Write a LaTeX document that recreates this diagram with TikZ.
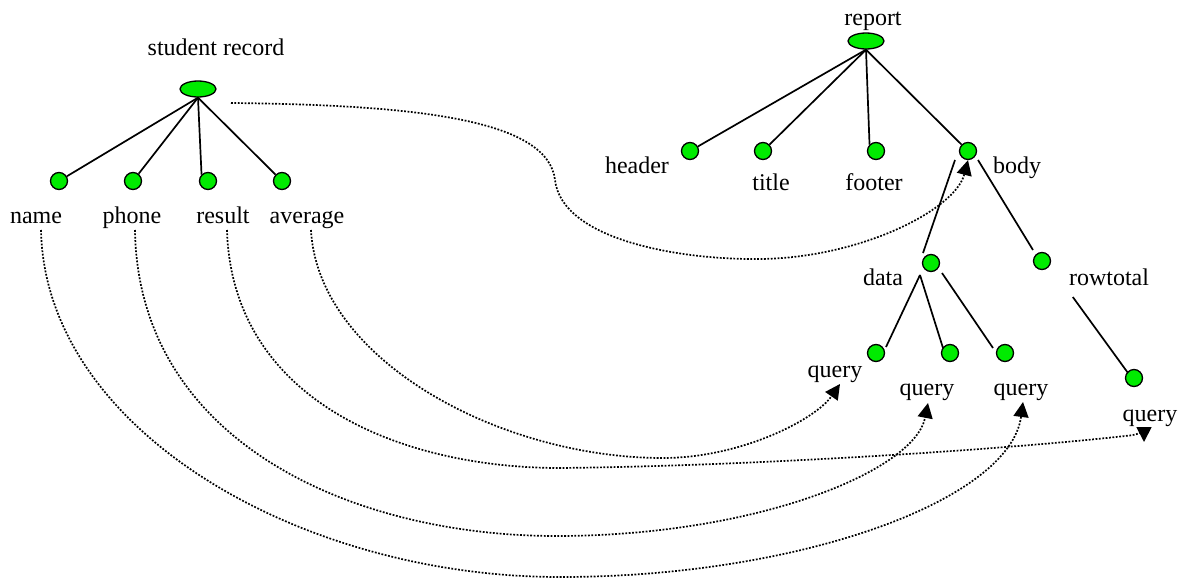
\documentclass[tikz,border=0pt]{standalone}
\usepackage{fontspec}
\setmainfont{Liberation Serif}
\usetikzlibrary{shapes.geometric,arrows.meta,calc}
\definecolor{leaf}{RGB}{0,235,0}
\begin{document}
\begin{tikzpicture}[x=1pt,y=-1pt,
  dot/.style={circle,draw,fill=leaf,line width=1.3pt,minimum size=17pt,inner sep=0pt},
  root/.style={ellipse,draw,fill=leaf,line width=1.3pt,minimum width=36pt,minimum height=16pt,inner sep=0pt},
  lbl/.style={anchor=base,inner sep=0pt,font=\fontsize{24}{28}\selectfont},
  edge/.style={line width=1.7pt},
  link/.style={line width=1.7pt,dash pattern=on 1.8pt off 1.6pt,-{Triangle[length=15pt,width=15pt]}}]
\useasboundingbox (0,0) rectangle (1184,581);

% student record tree
\node[root] (sr) at (198,89) {};
\node[lbl] (lsr) at (216,55) {student record};
\node[dot] (name) at (59,181) {};
\node[dot] (phone) at (133,181) {};
\node[dot] (result) at (208,181) {};
\node[dot] (average) at (282,181) {};
\node[lbl] (lname) at (36,223) {name};
\node[lbl] (lphone) at (132,223) {phone};
\node[lbl] (lresult) at (223,223) {result};
\node[lbl] (laverage) at (307,223) {average};
\draw[edge] (sr.south) -- (name);
\draw[edge] (sr.south) -- (phone);
\draw[edge] (sr.south) -- (result.north west);
\draw[edge] (sr.south) -- (average);

% report tree
\node[root] (rp) at (866,41) {};
\node[lbl] (lrp) at (873,25) {report};
\node[dot] (header) at (690,151) {};
\node[dot] (title) at (763,151) {};
\node[dot] (footer) at (876,151) {};
\node[dot] (body) at (968,151) {};
\node[lbl] (lheader) at (637,173) {header};
\node[lbl] (ltitle) at (771,190) {title};
\node[lbl] (lfooter) at (874,190) {footer};
\node[lbl] (lbody) at (1017,173) {body};
\draw[edge] (rp.south) -- (header);
\draw[edge] (rp.south) -- (title);
\draw[edge] (rp.south) -- (footer.north west);
\draw[edge] (rp.south) -- (body);

\node[dot] (data) at (931,263) {};
\node[dot] (rowtotal) at (1042,261) {};
\node[lbl] (ldata) at (883,285) {data};
\node[lbl] (lrowtotal) at (1109,285) {rowtotal};
\draw[edge] ($(body)+(-13,9)$) -- ($(data)+(-8,-10)$);
\draw[edge] ($(body)+(10,9)$) -- ($(rowtotal)+(-9,-11)$);

\node[dot] (qa) at (876,353) {};
\node[dot] (qb) at (950,353) {};
\node[dot] (qc) at (1005,353) {};
\node[dot] (qd) at (1134,378) {};
\node[lbl] (lqa) at (835,377) {query};
\node[lbl] (lqb) at (927,395) {query};
\node[lbl] (lqc) at (1021,395) {query};
\node[lbl] (lqd) at (1150,421) {query};
\draw[edge] ($(data)+(-11,12)$) -- ($(qa)+(10,-6)$);
\draw[edge] ($(data)+(-11,12)$) -- ($(qb)+(-7,-5)$);
\draw[edge] ($(data)+(11,10)$) -- ($(qc)+(-12,-5)$);
\draw[edge] ($(lrowtotal.base west)+(4,12)$) -- ($(qd)+(-6,-5)$);

% mapping links
\coordinate (srout) at (231,103);
\coordinate (nameout) at (41,230);
\coordinate (phoneout) at (135,230);
\coordinate (resultout) at (227,230);
\coordinate (averageout) at (311,230);
\coordinate (qain) at (840,384);
\coordinate (qbin) at (928,403);
\coordinate (qcin) at (1023,402);
\coordinate (qdin) at (1144,442);

\draw[link] (srout) .. controls (420,105) and (548,120) .. (555,180)
  .. controls (562,240) and (680,260) .. (760,259)
  .. controls (860,258) and (955,210) .. (body.south);
\draw[link] (averageout) .. controls (318,360) and (500,458) .. (663,458)
  .. controls (740,458) and (815,420) .. (qain);
\draw[link] (resultout) .. controls (232,400) and (400,468) .. (560,468)
  .. controls (750,466) and (1000,450) .. (1125,436)
  .. controls (1138,435) and (1144,432) .. (qdin);
\draw[link] (phoneout) .. controls (138,440) and (350,537) .. (560,536)
  .. controls (760,535) and (915,470) .. (qbin);
\draw[link] (nameout) .. controls (45,430) and (300,577) .. (560,577)
  .. controls (800,577) and (1010,500) .. (qcin);
\end{tikzpicture}
\end{document}
